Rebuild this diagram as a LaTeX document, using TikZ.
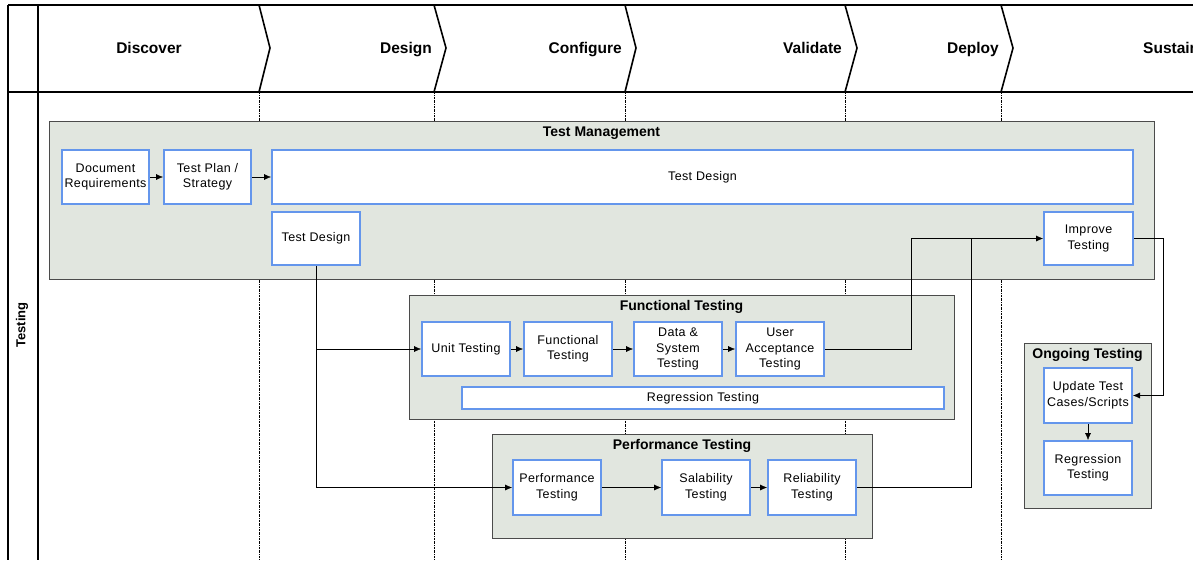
\documentclass[tikz,border=0pt]{standalone}
\usepackage{fontspec}
\setmainfont{Liberation Sans}
\newfontfamily\spacedfamily[LetterSpace=3]{Liberation Sans}
\usetikzlibrary{shapes,arrows.meta,positioning}
\definecolor{boxblue}{RGB}{100,150,236}
\definecolor{groupfill}{RGB}{225,230,223}
\definecolor{groupline}{RGB}{75,75,75}
\newcommand\boxfont{\spacedfamily\fontsize{12.5}{15.5}\selectfont}
\newcommand\titlefont{\fontsize{14}{16}\selectfont\bfseries}
\newcommand\phasefont{\fontsize{15.5}{18}\selectfont\bfseries}
\tikzset{
block/.style={rectangle, draw=boxblue, line width=2pt, fill=white, text centered, align=center, inner sep=1pt, font=\boxfont},
group/.style={rectangle, draw=groupline, line width=1pt, fill=groupfill},
grouptitle/.style={anchor=north, inner sep=3pt, yshift=-3pt, font=\titlefont},
phase/.style={font=\phasefont, inner sep=0pt},
lane/.style={line width=1.6pt},
divider/.style={thin, dash pattern=on 2pt off 1pt on 0.5pt off 1pt},
line/.style={draw, thin, -{Latex[length=7pt, width=6pt]}}
}

\begin{document}
\begin{tikzpicture}[x=1pt, y=-1pt]
    \useasboundingbox (0,0) rectangle (1193,560);
    % Swimlane frame
    \draw [lane] (8,5) -- (1193,5);
    \draw [lane] (8,92) -- (1193,92);
    \draw [lane] (8,5) -- (8,560);
    \draw [lane] (38,5) -- (38,560);
    \draw [lane] (259,5) -- (270,48) -- (259,92);
    \draw [lane] (434,5) -- (446,48) -- (434,92);
    \draw [lane] (625,5) -- (636,48) -- (625,92);
    \draw [lane] (845,5) -- (857,48) -- (845,92);
    \draw [lane] (1001,5) -- (1013,48) -- (1001,92);
    \draw [divider] (259,92) -- (259,560);
    \draw [divider] (434,92) -- (434,560);
    \draw [divider] (625,92) -- (625,560);
    \draw [divider] (845,92) -- (845,560);
    \draw [divider] (1001,92) -- (1001,560);
    % Phase labels
    \node [phase, anchor=base] (discover) at (149,53.5) {Discover};
    \node [phase, anchor=base east] (design) at (432,53.5) {Design};
    \node [phase, anchor=base east] (configure) at (622,53.5) {Configure};
    \node [phase, anchor=base east] (validate) at (842,53.5) {Validate};
    \node [phase, anchor=base east] (deploy) at (999,53.5) {Deploy};
    \node [phase, anchor=base west] (sustain) at (1143,53.5) {Sustain};
    \node [font=\fontsize{13}{15}\selectfont\bfseries, rotate=90] (testing) at (22,325) {Testing};
    % Place groups
    \node [group, minimum width=1105, minimum height=158] (management) at (601.5,200) {};
    \node [grouptitle] (managementtitle) at (management.north) {Test Management};
    \node [group, minimum width=545, minimum height=124] (functionalgroup) at (681.5,357) {};
    \node [grouptitle] (functionaltitle) at (functionalgroup.north) {Functional Testing};
    \node [group, minimum width=380, minimum height=104] (performancegroup) at (682,486) {};
    \node [grouptitle] (performancetitle) at (performancegroup.north) {Performance Testing};
    \node [group, minimum width=127, minimum height=165] (ongoing) at (1087.5,425.5) {};
    \node [grouptitle] (ongoingtitle) at (ongoing.north) {Ongoing Testing};
    % Place nodes
    \node [block, minimum width=87, minimum height=54] (docreq) at (105.5,177) {Document\\Requirements};
    \node [block, minimum width=87, minimum height=54] (testplan) at (207.5,177) {Test Plan /\\Strategy};
    \node [block, minimum width=861, minimum height=54] (designwide) at (702.5,177) {Test Design};
    \node [block, minimum width=88, minimum height=53] (designsmall) at (316,238.5) {Test Design};
    \node [block, minimum width=89, minimum height=53] (improve) at (1088.5,238.5) {Improve\\Testing};
    \node [block, minimum width=88, minimum height=54] (unit) at (466,349) {Unit Testing};
    \node [block, minimum width=88, minimum height=54] (functional) at (568,349) {Functional\\Testing};
    \node [block, minimum width=88, minimum height=54] (datasystem) at (678,349) {Data \&\\System\\Testing};
    \node [block, minimum width=88, minimum height=54] (acceptance) at (780,349) {User\\Acceptance\\Testing};
    \node [block, minimum width=482, minimum height=22] (regression) at (703,398) {Regression Testing};
    \node [block, minimum width=88, minimum height=55] (performance) at (557,487.5) {Performance\\Testing};
    \node [block, minimum width=88, minimum height=55] (scalability) at (706,487.5) {Salability\\Testing};
    \node [block, minimum width=88, minimum height=55] (reliability) at (812,487.5) {Reliability\\Testing};
    \node [block, minimum width=88, minimum height=55] (update) at (1088,395.5) {Update Test\\Cases/Scripts};
    \node [block, minimum width=88, minimum height=54] (retest) at (1088,468) {Regression\\Testing};
    % Turning points
    \coordinate (acceptanceturn) at (911,349);
    \coordinate (reliabilityjoin) at (971,238.5);
    \coordinate (improveturn) at (1163,238.5);
    % Draw edges
    \path [line] (docreq) -- (testplan);
    \path [line] (testplan) -- (designwide);
    \path [line] (designsmall.south) |- (unit.west);
    \path [line] (designsmall.south) |- (performance.west);
    \path [line] (unit) -- (functional);
    \path [line] (functional) -- (datasystem);
    \path [line] (datasystem) -- (acceptance);
    \path [line] (acceptance) -- (acceptanceturn) |- (improve.west);
    \path [line] (performance) -- (scalability);
    \path [line] (scalability) -- (reliability);
    \draw [thin] (reliability.east) -| (reliabilityjoin);
    \path [line] (improve.east) -- (improveturn) |- (update.east);
    \path [line] (update) -- (retest);
\end{tikzpicture}
\end{document}
